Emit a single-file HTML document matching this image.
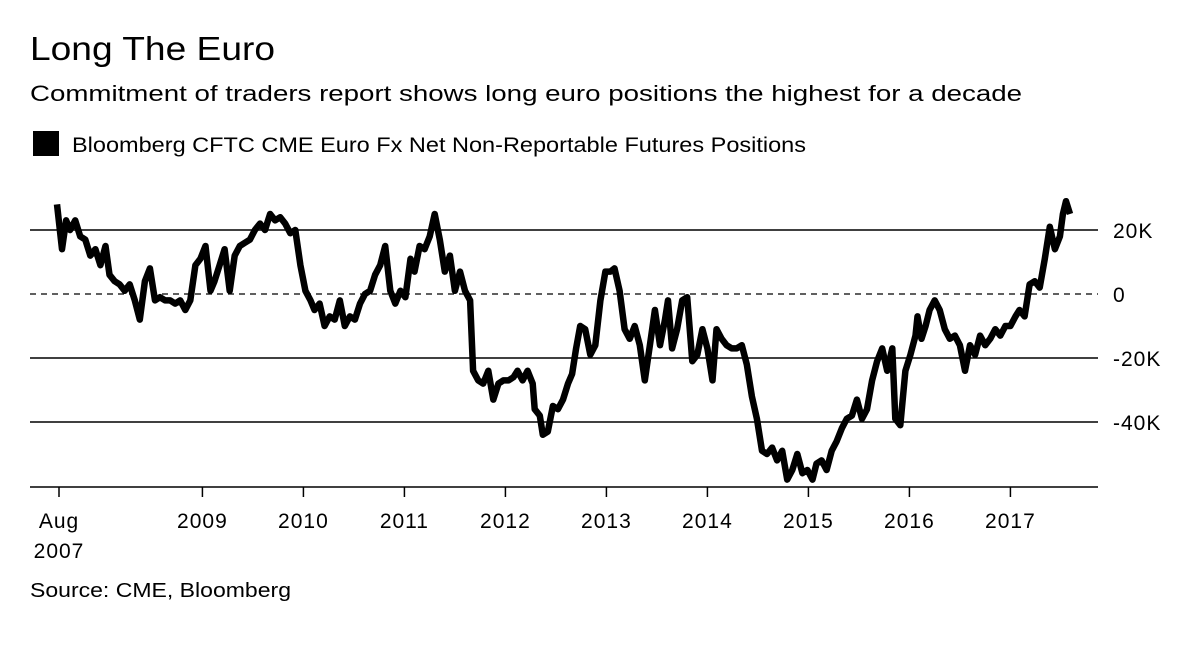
<!DOCTYPE html>
<html><head><meta charset="utf-8"><style>
body{margin:0;background:#fff;width:1200px;height:648px;overflow:hidden;font-family:"Liberation Sans",sans-serif;color:#000}
</style></head><body>
<svg width="1200" height="648" style="position:absolute;left:0;top:0">
<text x="30" y="60" font-size="33" textLength="245" lengthAdjust="spacingAndGlyphs">Long The Euro</text>
<text x="30" y="101" font-size="22.5" textLength="992" lengthAdjust="spacingAndGlyphs">Commitment of traders report shows long euro positions the highest for a decade</text>
<rect x="33" y="131" width="26" height="25" fill="#000"/>
<text x="72" y="152" font-size="21" textLength="734" lengthAdjust="spacingAndGlyphs">Bloomberg CFTC CME Euro Fx Net Non-Reportable Futures Positions</text>
<g id="grid"></g><g id="xax"></g>
<path id="line" fill="none" stroke="#000" stroke-width="6.5" stroke-linejoin="round"/>
<text x="30" y="597" font-size="20" textLength="261" lengthAdjust="spacingAndGlyphs">Source: CME, Bloomberg</text>
</svg>
<script>
const dates=[2007.56,2007.61,2007.65,2007.69,2007.74,2007.79,2007.84,2007.89,2007.94,2007.99,2008.04,2008.08,2008.13,2008.18,2008.23,2008.28,2008.33,2008.38,2008.43,2008.48,2008.53,2008.58,2008.63,2008.68,2008.73,2008.78,2008.83,2008.88,2008.93,2008.98,2009.03,2009.08,2009.12,2009.17,2009.22,2009.27,2009.32,2009.37,2009.42,2009.47,2009.52,2009.57,2009.62,2009.67,2009.72,2009.77,2009.82,2009.87,2009.92,2009.97,2010.02,2010.07,2010.11,2010.16,2010.21,2010.26,2010.31,2010.36,2010.41,2010.46,2010.51,2010.56,2010.61,2010.66,2010.71,2010.76,2010.81,2010.86,2010.91,2010.96,2011.01,2011.06,2011.10,2011.15,2011.20,2011.25,2011.30,2011.35,2011.40,2011.45,2011.50,2011.55,2011.60,2011.65,2011.68,2011.73,2011.78,2011.83,2011.88,2011.93,2011.98,2012.03,2012.08,2012.12,2012.17,2012.22,2012.27,2012.29,2012.34,2012.37,2012.42,2012.47,2012.52,2012.57,2012.62,2012.66,2012.70,2012.74,2012.79,2012.84,2012.89,2012.94,2012.99,2013.04,2013.08,2013.13,2013.18,2013.23,2013.28,2013.33,2013.38,2013.43,2013.48,2013.53,2013.58,2013.61,2013.65,2013.70,2013.75,2013.80,2013.85,2013.90,2013.95,2014.00,2014.05,2014.09,2014.14,2014.19,2014.24,2014.29,2014.34,2014.39,2014.44,2014.49,2014.54,2014.59,2014.64,2014.69,2014.74,2014.79,2014.84,2014.89,2014.94,2014.99,2015.04,2015.08,2015.13,2015.18,2015.23,2015.28,2015.33,2015.38,2015.43,2015.48,2015.53,2015.58,2015.63,2015.68,2015.73,2015.78,2015.83,2015.86,2015.91,2015.96,2016.01,2016.06,2016.08,2016.12,2016.16,2016.20,2016.25,2016.30,2016.35,2016.40,2016.45,2016.50,2016.55,2016.60,2016.65,2016.70,2016.75,2016.80,2016.85,2016.90,2016.95,2017.00,2017.05,2017.09,2017.14,2017.19,2017.24,2017.29,2017.34,2017.39,2017.44,2017.49,2017.52,2017.55,2017.59];
const values=[28,14,23,20,23,18,17,12,14,9,15,6,4,3,1,3,-2,-8,4,8,-2,-1,-2,-2,-3,-2,-5,-2,9,11,15,1,4,9,14,1,12,15,16,17,20,22,20,25,23,24,22,19,20,9,1,-2,-5,-3,-10,-7,-8,-2,-10,-7,-8,-3,0,1,6,9,15,1,-3,1,-1,11,7,15,14,18,25,17,7,12,1,7,1,-2,-24,-27,-28,-24,-33,-28,-27,-27,-26,-24,-27,-24,-28,-36,-38,-44,-43,-35,-36,-33,-28,-25,-17,-10,-11,-19,-16,-2,7,7,8,1,-11,-14,-10,-16,-27,-16,-5,-16,-8,-2,-17,-11,-2,-1,-21,-19,-11,-17,-27,-11,-14,-16,-17,-17,-16,-22,-32,-39,-49,-50,-48,-52,-49,-58,-55,-50,-56,-55,-58,-53,-52,-55,-49,-46,-42,-39,-38,-33,-39,-36,-27,-21,-17,-24,-17,-39,-41,-24,-19,-13,-7,-14,-10,-5,-2,-5,-11,-14,-13,-16,-24,-16,-19,-13,-16,-14,-11,-13,-10,-10,-7,-5,-7,3,4,2,11,21,14,18,25,29,25];
const yTicks=[20,0,-20,-40];
const yTickLabels=["20K","0","-20K","-40K"];
const xTicks=[2007.58,2009,2010,2011,2012,2013,2014,2015,2016,2017];
const xTickLabels=["Aug","2009","2010","2011","2012","2013","2014","2015","2016","2017"];
const NS="http://www.w3.org/2000/svg";
const xs=v=>59+(v-2007.58)*101;
const ys=v=>294-v*3.2;
const grid=document.getElementById('grid');
yTicks.forEach((t,i)=>{
 const l=document.createElementNS(NS,'line');
 l.setAttribute('x1',30);l.setAttribute('x2',1098);l.setAttribute('y1',ys(t));l.setAttribute('y2',ys(t));
 l.setAttribute('stroke','#000');l.setAttribute('stroke-width',t===0?1.3:1.6);
 if(t===0)l.setAttribute('stroke-dasharray','6,5');
 
 
 grid.appendChild(l);
 const tx=document.createElementNS(NS,'text');
 tx.setAttribute('x',1113);tx.setAttribute('y',ys(t)+8);tx.setAttribute('font-size',21);tx.setAttribute('letter-spacing',1);
 tx.textContent=yTickLabels[i];
 
 
 grid.appendChild(tx);
});
const xax=document.getElementById('xax');
const ax=document.createElementNS(NS,'line');
ax.setAttribute('x1',30);ax.setAttribute('x2',1098);ax.setAttribute('y1',487);ax.setAttribute('y2',487);
ax.setAttribute('stroke','#000');ax.setAttribute('stroke-width',1.6);


xax.appendChild(ax);
xTicks.forEach((t,i)=>{
 const l=document.createElementNS(NS,'line');
 l.setAttribute('x1',xs(t));l.setAttribute('x2',xs(t));l.setAttribute('y1',487);l.setAttribute('y2',497);
 l.setAttribute('stroke','#000');l.setAttribute('stroke-width',1.5);
 
 
 xax.appendChild(l);
 const tx=document.createElementNS(NS,'text');
 tx.setAttribute('x',xs(t));tx.setAttribute('y',528);tx.setAttribute('font-size',21);tx.setAttribute('letter-spacing',1);tx.setAttribute('text-anchor','middle');
 tx.textContent=xTickLabels[i];
 
 
 xax.appendChild(tx);
 if(i===0){
  const t2=document.createElementNS(NS,'text');
  t2.setAttribute('x',xs(t));t2.setAttribute('y',558);t2.setAttribute('font-size',21);t2.setAttribute('letter-spacing',1);t2.setAttribute('text-anchor','middle');
  t2.textContent='2007';
  
  
  xax.appendChild(t2);
 }
});
document.getElementById('line').setAttribute('d',dates.map((d,i)=>(i?'L':'M')+xs(d).toFixed(1)+','+ys(values[i]).toFixed(1)).join(''));
</script>
</body></html>
